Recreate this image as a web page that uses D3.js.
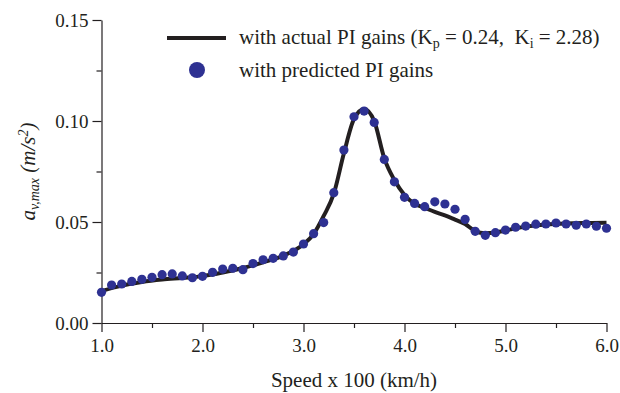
<!DOCTYPE html>
<html>
<head>
<meta charset="utf-8">
<script src="https://cdn.jsdelivr.net/npm/d3@7"></script>
<style>
  body { margin: 0; background: #fff; }
  text { font-family: "Liberation Serif", "Times New Roman", serif; fill: #231f20; }
</style>
</head>
<body>
<div id="chart"></div>
<script>
// speed (x100 km/h) for the predicted-gain points
const speeds = [1.0, 1.1, 1.2, 1.3, 1.4, 1.5, 1.6, 1.7, 1.8, 1.9,
                2.0, 2.1, 2.2, 2.3, 2.4, 2.5, 2.6, 2.7, 2.8, 2.9,
                3.0, 3.1, 3.2, 3.3, 3.4, 3.5, 3.6, 3.7, 3.8, 3.9,
                4.0, 4.1, 4.2, 4.3, 4.4, 4.5, 4.6, 4.7, 4.8, 4.9,
                5.0, 5.1, 5.2, 5.3, 5.4, 5.5, 5.6, 5.7, 5.8, 5.9, 6.0];
const predicted = [0.0152, 0.0188, 0.0193, 0.0206, 0.0216, 0.0226, 0.0239, 0.0243, 0.0233, 0.0224,
                   0.0231, 0.0251, 0.0267, 0.0271, 0.0264, 0.0294, 0.0313, 0.0320, 0.0332, 0.0351,
                   0.0391, 0.0442, 0.0497, 0.0645, 0.0856, 0.1021, 0.1049, 0.0993, 0.0810, 0.0699,
                   0.0622, 0.0592, 0.0576, 0.0600, 0.0589, 0.0563, 0.0513, 0.0454, 0.0434, 0.0447,
                   0.0460, 0.0474, 0.0480, 0.0489, 0.0490, 0.0495, 0.0490, 0.0484, 0.0490, 0.0479, 0.0469];

// actual PI gains curve
const actualX = [1.0, 1.2, 1.4, 1.6, 1.8, 2.0, 2.2, 2.4, 2.6, 2.8, 3.0, 3.1, 3.2, 3.3, 3.4, 3.5,
                 3.6, 3.7, 3.8, 3.9, 4.0, 4.1, 4.2, 4.3, 4.4, 4.5, 4.6, 4.7, 4.8, 4.9, 5.0,
                 5.2, 5.4, 5.6, 5.8, 6.0];
const actualY = [0.0158, 0.0185, 0.0203, 0.0215, 0.0223, 0.0232, 0.0250, 0.0272, 0.0300, 0.0333,
                 0.0390, 0.0440, 0.0530, 0.0640, 0.0840, 0.1010, 0.1060, 0.1000, 0.0815, 0.0708,
                 0.0634, 0.0590, 0.0570, 0.0550, 0.0533, 0.0512, 0.0490, 0.0455, 0.0444, 0.0448,
                 0.0458, 0.0477, 0.0488, 0.0493, 0.0495, 0.0496];

const xTicks = [1, 2, 3, 4, 5, 6];
const xMinor = [1.5, 2.5, 3.5, 4.5, 5.5];
const yTicks = [0, 0.05, 0.10, 0.15];
const yMinor = [0.025, 0.075, 0.125];

const W = 620, H = 393;
const ink = "#231f20";
const dotColor = "#2e3192";

const svg = d3.select("#chart").append("svg")
    .attr("width", W)
    .attr("height", H);

const x = d3.scaleLinear().domain([1, 6]).range([101.5, 606.5]);
const y = d3.scaleLinear().domain([0, 0.15]).range([323, 20]);

// axes
svg.append("g")
    .attr("transform", `translate(0,${y(0)})`)
    .call(d3.axisBottom(x).tickValues(xTicks).tickFormat(d3.format(".1f"))
        .tickSize(9).tickSizeOuter(0).tickPadding(7));
svg.append("g")
    .attr("transform", `translate(0,${y(0)})`)
    .call(d3.axisBottom(x).tickValues(xMinor).tickFormat("").tickSize(5).tickSizeOuter(0))
    .select(".domain").remove();

svg.append("g")
    .attr("transform", `translate(${x(1)},0)`)
    .call(d3.axisLeft(y).tickValues(yTicks).tickFormat(d3.format(".2f"))
        .tickSize(9).tickSizeOuter(0).tickPadding(4));
svg.append("g")
    .attr("transform", `translate(${x(1)},0)`)
    .call(d3.axisLeft(y).tickValues(yMinor).tickFormat("").tickSize(5).tickSizeOuter(0))
    .select(".domain").remove();

svg.selectAll(".domain, .tick line").attr("stroke", ink).attr("stroke-width", 1.2);
svg.selectAll(".tick text")
    .attr("fill", ink)
    .style("font-family", "'Liberation Serif', 'Times New Roman', serif")
    .style("font-size", "19px");

// curve
const line = d3.line()
    .x((d, i) => x(actualX[i]))
    .y(d => y(d))
    .curve(d3.curveMonotoneX);

svg.append("path")
    .datum(actualY)
    .attr("fill", "none")
    .attr("stroke", ink)
    .attr("stroke-width", 4)
    .attr("stroke-linejoin", "round")
    .attr("d", line);

// predicted points
svg.selectAll(".dot")
    .data(predicted)
    .enter()
    .append("circle")
    .attr("class", "dot")
    .attr("cx", (d, i) => x(speeds[i]))
    .attr("cy", d => y(d))
    .attr("r", 4.6)
    .attr("fill", dotColor);

// axis titles
svg.append("text")
    .attr("x", (x(1) + x(6)) / 2)
    .attr("y", 387)
    .attr("text-anchor", "middle")
    .style("font-size", "21px")
    .text("Speed x 100 (km/h)");

const yl = svg.append("text")
    .attr("transform", `translate(35,${(y(0) + y(0.15)) / 2}) rotate(-90)`)
    .attr("text-anchor", "middle")
    .style("font-size", "21px")
    .style("font-style", "italic");
yl.append("tspan").text("a");
yl.append("tspan").attr("baseline-shift", "-25%").style("font-size", "14px").text("v,max");
yl.append("tspan").text(" (m/s");
yl.append("tspan").attr("baseline-shift", "super").style("font-size", "14px").text("2");
yl.append("tspan").text(")");

// legend
const leg = svg.append("g");
leg.append("line")
    .attr("x1", 167).attr("x2", 226)
    .attr("y1", 38).attr("y2", 38)
    .attr("stroke", ink).attr("stroke-width", 4);
const t1 = leg.append("text").attr("x", 239).attr("y", 44).style("font-size", "21px");
t1.append("tspan").text("with actual PI gains (K");
t1.append("tspan").attr("baseline-shift", "-25%").style("font-size", "14px").text("p");
t1.append("tspan").text(" = 0.24,\u00a0 K");
t1.append("tspan").attr("baseline-shift", "-25%").style("font-size", "14px").text("i");
t1.append("tspan").text(" = 2.28)");

leg.append("circle").attr("cx", 197).attr("cy", 70).attr("r", 8).attr("fill", dotColor);
leg.append("text").attr("x", 239).attr("y", 77).style("font-size", "21px")
    .text("with predicted PI gains");
</script>
</body>
</html>
